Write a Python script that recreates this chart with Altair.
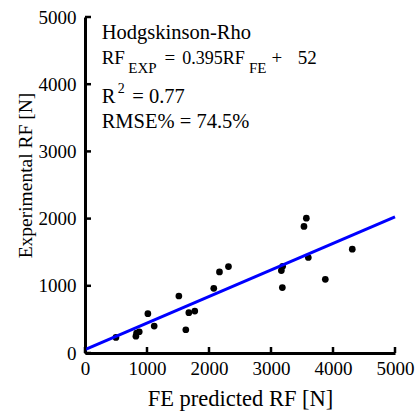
import altair as alt
import pandas as pd

# FE predicted reaction force [N]
fe_pred = [499, 821, 832, 875, 1014, 1116, 1514, 1626, 1675, 1771,
           2077, 2169, 2314, 3167, 3188, 3183, 3532, 3570, 3602, 3876, 4311]
# Experimental reaction force [N]
exp_rf = [231, 251, 296, 316, 585, 400, 848, 346, 600, 624,
          963, 1206, 1286, 1226, 1291, 973, 1883, 2007, 1421, 1097, 1545]

slope = 0.395
intercept = 52
fit_x = [0, 5000]
fit_y = [slope * v + intercept for v in fit_x]

tick_vals = [0, 1000, 2000, 3000, 4000, 5000]

W, H = 310, 336
FONT = "'Liberation Serif', 'Times New Roman', serif"

pts = pd.DataFrame({"fe": fe_pred, "exp": exp_rf})
fit = pd.DataFrame({"fe": fit_x, "exp": fit_y})
ticks = pd.DataFrame({"v": tick_vals})

xs = alt.Scale(domain=[0, 5000], nice=False)
ys = alt.Scale(domain=[0, 5000], nice=False)

xaxis = alt.Axis(values=tick_vals, ticks=False, grid=False, labelPadding=6, format="d",
                 title="FE predicted RF [N]", titleY=52, titleBaseline="alphabetic",
                 titleFontSize=22.5, labelFontSize=19, labelFlush=False)
yaxis = alt.Axis(values=tick_vals, ticks=False, grid=False, labelPadding=9, format="d",
                 title="Experimental RF [N]", titleX=-54, titleY=158,
                 titleBaseline="alphabetic", titleAlign="center", titleAngle=270,
                 titleFontSize=19.5, labelFontSize=19, labelFlush=False)

points = alt.Chart(pts).mark_circle(color="black", opacity=1, size=45).encode(
    x=alt.X("fe:Q", scale=xs, axis=xaxis),
    y=alt.Y("exp:Q", scale=ys, axis=yaxis),
)

line = alt.Chart(fit).mark_line(color="#0000ff", strokeWidth=3).encode(
    x=alt.X("fe:Q", scale=xs),
    y=alt.Y("exp:Q", scale=ys),
)

xticks = alt.Chart(ticks).mark_rule(color="black", strokeWidth=2.5).encode(
    x=alt.X("v:Q", scale=xs),
    y=alt.value(H),
    y2=alt.value(H - 6),
)
yticks = alt.Chart(ticks).mark_rule(color="black", strokeWidth=2.5).encode(
    y=alt.Y("v:Q", scale=ys),
    x=alt.value(0),
    x2=alt.value(6),
)

one = pd.DataFrame({"a": [0]})


def label(txt, x, y, size, align="left"):
    return alt.Chart(one).mark_text(
        text=txt, font=FONT, fontSize=size, align=align,
        baseline="alphabetic", color="black"
    ).encode(x=alt.value(x), y=alt.value(y))


texts = [
    label("Hodgskinson-Rho", 16.7, 21.5, 20.5),
    label("RF", 16.7, 47.3, 19),
    label("EXP", 43.3, 55.7, 15),
    label("=", 79.5, 47.3, 19),
    label("0.395RF", 97.3, 47.3, 18),
    label("FE", 164, 55.7, 15),
    label("+", 186.5, 47.3, 19),
    label("52", 231.7, 47.3, 19, align="right"),
    label("R", 16.7, 86.3, 20.5),
    label("2", 32.7, 76.3, 14),
    label("= 0.77", 47.3, 86.3, 20.5),
    label("RMSE% = 74.5%", 16.7, 111.3, 20.5),
]

chart = alt.layer(points, line, xticks, yticks, *texts).properties(
    width=W, height=H,
    autosize=alt.AutoSizeParams(type="none"),
    padding={"left": 85, "top": 17, "right": 22, "bottom": 62},
    background="white",
).configure_view(stroke=None).configure_axis(
    domainColor="black", domainWidth=3, labelColor="black", titleColor="black",
    labelFont=FONT, titleFont=FONT, titleFontWeight="normal",
).configure_text(font=FONT)

chart.save("out.html", embed_options={"renderer": "svg", "actions": False})
